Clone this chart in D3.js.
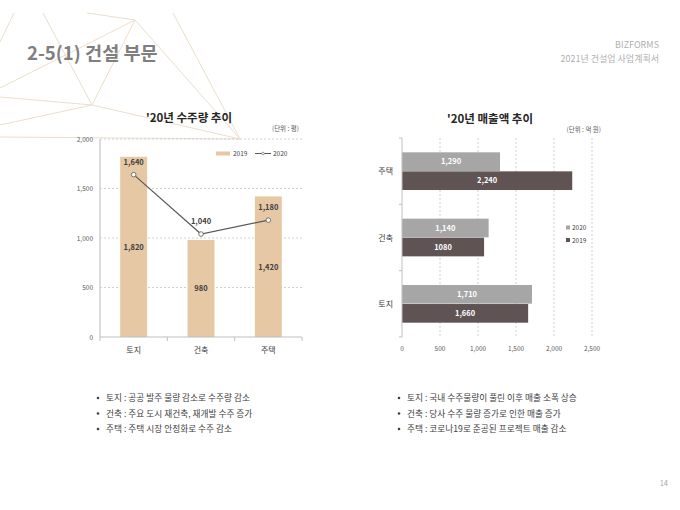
<!DOCTYPE html>
<html>
<head>
<meta charset="utf-8">
<script src="https://cdn.jsdelivr.net/npm/d3@7"></script>
<style>
  body { margin: 0; background: #fff; }
  svg { display: block; font-family: "Noto Sans CJK KR", "Noto Sans", sans-serif; }
</style>
</head>
<body>
<svg id="page" width="680" height="510"></svg>
<script>
// left chart: order volume (unit: 평)
const orderCats = ["토지", "건축", "주택"];
const order2019 = [1820, 980, 1420];
const order2020 = [1640, 1040, 1180];
const orderTicks = [0, 500, 1000, 1500, 2000];

// right chart: sales (unit: 억 원)
const salesCats = ["주택", "건축", "토지"];
const sales2020 = [1290, 1140, 1710];
const sales2019 = [2240, 1080, 1660];
const salesLabels2020 = ["1,290", "1,140", "1,710"];
const salesLabels2019 = ["2,240", "1080", "1,660"];
const salesTicks = [0, 500, 1000, 1500, 2000, 2500];

const notesLeft = [
  "토지 : 공공 발주 물량 감소로 수주량 감소",
  "건축 : 주요 도시 재건축, 재개발 수주 증가",
  "주택 : 주택 시장 안정화로 수주 감소"
];
const notesRight = [
  "토지 : 국내 수주물량이 풀린 이후 매출 소폭 상승",
  "건축 : 당사 수주 물량 증가로 인한 매출 증가",
  "주택 : 코로나19로 준공된 프로젝트 매출 감소"
];

const svg = d3.select("#page");
const fmt = d3.format(",");

// background decoration
const deco = [
  [[0, 42], [14, 13]],
  [[43, 13], [92, 105]],
  [[92, 105], [135, 20]],
  [[0, 88], [135, 20]],
  [[87, 13], [135, 20]],
  [[135, 20], [240, 139]],
  [[173, 13], [240, 139]],
  [[0, 97], [92, 105]],
  [[92, 105], [240, 139]],
  [[0, 125], [92, 105]],
  [[0, 137], [240, 139]]
];
svg.append("g").selectAll("line").data(deco).enter().append("line")
  .attr("x1", d => d[0][0]).attr("y1", d => d[0][1])
  .attr("x2", d => d[1][0]).attr("y2", d => d[1][1])
  .attr("stroke", "#ebdecd").attr("stroke-width", 1);

// header
svg.append("text").attr("x", 27).attr("y", 60)
  .attr("font-size", 18.6).attr("font-weight", "bold").attr("fill", "#7f7f7f")
  .text("2-5(1) 건설 부문");
svg.append("text").attr("x", 659).attr("y", 48).attr("text-anchor", "end")
  .attr("font-size", 9).attr("fill", "#b0b0b0").text("BIZFORMS");
svg.append("text").attr("x", 659).attr("y", 62).attr("text-anchor", "end")
  .attr("font-size", 9).attr("fill", "#b0b0b0").text("2021년 건설업 사업계획서");
svg.append("text").attr("x", 668).attr("y", 486).attr("text-anchor", "end")
  .attr("font-size", 7.5).attr("fill", "#a6a6a6").text("14");

// ---------- left chart ----------
const left = svg.append("g");
const x1 = d3.scaleBand().domain(orderCats).range([100, 302]).paddingInner(0.6).paddingOuter(0.3);
const y1 = d3.scaleLinear().domain([0, 2000]).range([337, 139]);

left.append("text").attr("x", 189).attr("y", 122).attr("text-anchor", "middle")
  .attr("font-size", 11.5).attr("font-weight", "bold").attr("fill", "#262626")
  .text("'20년 수주량 추이");
left.append("text").attr("x", 299).attr("y", 131).attr("text-anchor", "end")
  .attr("font-size", 6.5).attr("fill", "#595959").text("(단위 : 평)");

left.append("g").selectAll("line").data(orderTicks.slice(1)).enter().append("line")
  .attr("x1", 100).attr("x2", 302)
  .attr("y1", d => y1(d)).attr("y2", d => y1(d))
  .attr("stroke", "#d0d0d0").attr("stroke-dasharray", "2,2");
left.append("g").selectAll("text").data(orderTicks).enter().append("text")
  .attr("x", 93).attr("y", d => y1(d) + 2.5).attr("text-anchor", "end")
  .attr("font-size", 6.5).attr("fill", "#595959").text(d => fmt(d));

left.append("g").selectAll("rect").data(order2019).enter().append("rect")
  .attr("x", (d, i) => x1(orderCats[i]))
  .attr("y", d => y1(d))
  .attr("width", x1.bandwidth())
  .attr("height", d => y1(0) - y1(d))
  .attr("fill", "#e6c8a4");
left.append("g").selectAll("text").data(order2019).enter().append("text")
  .attr("x", (d, i) => x1(orderCats[i]) + x1.bandwidth() / 2)
  .attr("y", d => (y1(d) + y1(0)) / 2 + 3)
  .attr("text-anchor", "middle").attr("font-size", 7.5).attr("font-weight", "bold")
  .attr("fill", "#404040").text(d => fmt(d));

// axes
left.append("line").attr("x1", 100).attr("x2", 100).attr("y1", 139).attr("y2", 337)
  .attr("stroke", "#d0d0d0").attr("stroke-width", 1.5);
left.append("line").attr("x1", 100).attr("x2", 302).attr("y1", 337).attr("y2", 337)
  .attr("stroke", "#bfbfbf");
const bounds1 = orderCats.map(c => x1(c) - x1.step() * x1.paddingInner() / 2).concat([302]);
left.append("g").selectAll("line").data(bounds1).enter().append("line")
  .attr("x1", d => d).attr("x2", d => d).attr("y1", 337).attr("y2", 341)
  .attr("stroke", "#bfbfbf");
left.append("g").selectAll("text").data(orderCats).enter().append("text")
  .attr("x", d => x1(d) + x1.bandwidth() / 2).attr("y", 353)
  .attr("text-anchor", "middle").attr("font-size", 8).attr("fill", "#404040").text(d => d);

// 2020 line
const line1 = d3.line()
  .x((d, i) => x1(orderCats[i]) + x1.bandwidth() / 2)
  .y(d => y1(d));
left.append("path").datum(order2020).attr("d", line1)
  .attr("fill", "none").attr("stroke", "#595959").attr("stroke-width", 1.2);
left.append("g").selectAll("circle").data(order2020).enter().append("circle")
  .attr("cx", (d, i) => x1(orderCats[i]) + x1.bandwidth() / 2)
  .attr("cy", d => y1(d)).attr("r", 2.3)
  .attr("fill", "#fff").attr("stroke", "#595959").attr("stroke-width", 0.8);
left.append("g").selectAll("text").data(order2020).enter().append("text")
  .attr("x", (d, i) => x1(orderCats[i]) + x1.bandwidth() / 2)
  .attr("y", d => y1(d) - 10)
  .attr("text-anchor", "middle").attr("font-size", 7.5).attr("font-weight", "bold")
  .attr("fill", "#404040").text(d => fmt(d));

// legend
left.append("rect").attr("x", 216).attr("y", 151.5).attr("width", 14).attr("height", 4).attr("fill", "#e6c8a4");
left.append("text").attr("x", 233).attr("y", 156).attr("font-size", 6.5).attr("fill", "#404040").text("2019");
left.append("line").attr("x1", 255).attr("x2", 271).attr("y1", 153.5).attr("y2", 153.5)
  .attr("stroke", "#595959").attr("stroke-width", 1);
left.append("circle").attr("cx", 263).attr("cy", 153.5).attr("r", 1.3)
  .attr("fill", "#fff").attr("stroke", "#595959").attr("stroke-width", 0.6);
left.append("text").attr("x", 273).attr("y", 156).attr("font-size", 6.5).attr("fill", "#404040").text("2020");

// ---------- right chart ----------
const right = svg.append("g");
const x2 = d3.scaleLinear().domain([0, 2500]).range([402, 592]);
const y2 = d3.scaleBand().domain(salesCats).range([138, 337]).paddingInner(0.42).paddingOuter(0.21);
const sub = d3.scaleBand().domain(["2020", "2019"]).range([0, y2.bandwidth()]).padding(0.02);

right.append("text").attr("x", 490).attr("y", 123).attr("text-anchor", "middle")
  .attr("font-size", 11.5).attr("font-weight", "bold").attr("fill", "#262626")
  .text("'20년 매출액 추이");
right.append("text").attr("x", 601).attr("y", 132).attr("text-anchor", "end")
  .attr("font-size", 6.5).attr("fill", "#595959").text("(단위 : 억 원)");

right.append("g").selectAll("line").data(salesTicks.slice(1)).enter().append("line")
  .attr("x1", d => x2(d)).attr("x2", d => x2(d))
  .attr("y1", 138).attr("y2", 337)
  .attr("stroke", "#d0d0d0").attr("stroke-dasharray", "2,2");
right.append("g").selectAll("text").data(salesTicks).enter().append("text")
  .attr("x", d => x2(d)).attr("y", 351).attr("text-anchor", "middle")
  .attr("font-size", 6.5).attr("fill", "#595959").text(d => fmt(d));

const series = [
  { key: "2020", values: sales2020, labels: salesLabels2020, color: "#a6a6a6" },
  { key: "2019", values: sales2019, labels: salesLabels2019, color: "#5f5354" }
];
series.forEach(s => {
  right.append("g").selectAll("rect").data(s.values).enter().append("rect")
    .attr("x", x2(0))
    .attr("y", (d, i) => y2(salesCats[i]) + sub(s.key))
    .attr("width", d => x2(d) - x2(0))
    .attr("height", sub.bandwidth())
    .attr("fill", s.color);
  right.append("g").selectAll("text").data(s.values).enter().append("text")
    .attr("x", d => (x2(d) + x2(0)) / 2)
    .attr("y", (d, i) => y2(salesCats[i]) + sub(s.key) + sub.bandwidth() / 2 + 2.7)
    .attr("text-anchor", "middle").attr("font-size", 7.5).attr("font-weight", "bold")
    .attr("fill", "#fff").text((d, i) => s.labels[i]);
});

right.append("line").attr("x1", 402).attr("x2", 402).attr("y1", 138).attr("y2", 337)
  .attr("stroke", "#bfbfbf");
const bounds2 = salesCats.map(c => y2(c) - y2.step() * y2.paddingInner() / 2).concat([337]);
right.append("g").selectAll("line").data(bounds2).enter().append("line")
  .attr("x1", 399).attr("x2", 402).attr("y1", d => d).attr("y2", d => d)
  .attr("stroke", "#bfbfbf");
right.append("g").selectAll("text").data(salesCats).enter().append("text")
  .attr("x", 393).attr("y", d => y2(d) + y2.bandwidth() / 2 + 3)
  .attr("text-anchor", "end").attr("font-size", 8).attr("fill", "#404040").text(d => d);

// legend
series.forEach((s, i) => {
  right.append("rect").attr("x", 566).attr("y", 225.5 + i * 12.5).attr("width", 4).attr("height", 4).attr("fill", s.color);
  right.append("text").attr("x", 572).attr("y", 230 + i * 12.5)
    .attr("font-size", 6.5).attr("fill", "#404040").text(s.key);
});

// ---------- notes ----------
function notes(items, xDot) {
  const g = svg.append("g");
  g.selectAll("circle").data(items).enter().append("circle")
    .attr("cx", xDot).attr("cy", (d, i) => 398 + i * 15.5).attr("r", 1.3).attr("fill", "#404040");
  g.selectAll("text").data(items).enter().append("text")
    .attr("x", xDot + 8).attr("y", (d, i) => 401 + i * 15.5)
    .attr("font-size", 8.7).attr("fill", "#404040").text(d => d);
}
notes(notesLeft, 98);
notes(notesRight, 399);
</script>
</body>
</html>
